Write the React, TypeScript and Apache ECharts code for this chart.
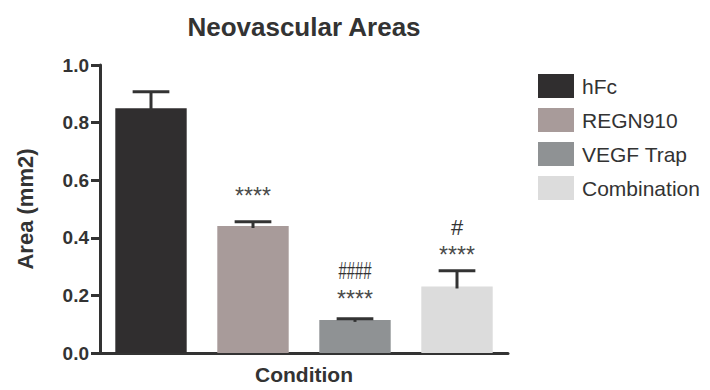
import React, { useEffect, useRef } from "react";
import * as echarts from "echarts";

const categories = ["hFc", "REGN910", "VEGF Trap", "Combination"];
const means = [0.85, 0.441, 0.115, 0.231];
const errors = [0.057, 0.015, 0.004, 0.055];
const barColors = ["#302e2f", "#a89b9a", "#8f9294", "#dcdcdc"];
const starLabels = ["", "****", "****", "****"];
const starY = [0, 0.586, 0.228, 0.38];
const hashLabels = ["", "", "####", "#"];
const hashY = [0, 0, 0.245, 0.397];

const FONT = "Liberation Sans, Arial, Helvetica, sans-serif";
const AXIS = "#333333";

export default function App() {
  const ref = useRef<HTMLDivElement>(null);
  useEffect(() => {
    if (!ref.current) return;
    const chart = echarts.init(ref.current, undefined, { renderer: "svg" });

    const barSeries = categories.map((name, i) => ({
      name,
      type: "bar",
      stack: "total",
      barWidth: "70%",
      itemStyle: { color: barColors[i] },
      data: categories.map((_, j) => (j === i ? means[i] : "-")),
      z: 2,
    }));

    const errData = categories.map((_, i) => [
      i,
      means[i],
      means[i] + errors[i],
      starY[i],
      hashY[i],
    ]);

    const option: any = {
      animation: false,
      title: {
        text: "Neovascular Areas",
        left: 299,
        top: 9,
        textAlign: "center",
        textStyle: { fontFamily: FONT, fontSize: 26, fontWeight: "bold", color: AXIS },
      },
      legend: {
        data: categories,
        orient: "vertical",
        left: 533,
        top: 69,
        itemWidth: 36,
        itemHeight: 24,
        itemGap: 10,
        icon: "rect",
        textStyle: { fontFamily: FONT, fontSize: 21, color: AXIS, padding: [0, 0, 0, 3] },
      },
      grid: { left: 100, right: 202, top: 65, bottom: 35, containLabel: false },
      xAxis: {
        type: "category",
        data: categories,
        name: "Condition",
        nameLocation: "middle",
        nameGap: 11,
        nameTextStyle: { fontFamily: FONT, fontSize: 21, fontWeight: "bold", color: AXIS, verticalAlign: "top" },
        axisLine: { lineStyle: { color: AXIS, width: 3 } },
        axisTick: { show: false },
        axisLabel: { show: false },
      },
      yAxis: {
        type: "value",
        min: 0,
        max: 1,
        interval: 0.2,
        name: "Area (mm2)",
        nameLocation: "middle",
        nameGap: 64,
        nameTextStyle: { fontFamily: FONT, fontSize: 22, fontWeight: "bold", color: AXIS },
        axisLine: { show: true, lineStyle: { color: AXIS, width: 3 } },
        axisTick: { show: true, length: 9, lineStyle: { color: AXIS, width: 3 } },
        axisLabel: {
          formatter: (v: number) => v.toFixed(1),
          fontFamily: FONT,
          fontSize: 19,
          fontWeight: "bold",
          color: AXIS,
          margin: 11,
        },
        splitLine: { show: false },
      },
      series: [
        ...barSeries,
        {
          type: "custom",
          name: "err",
          data: errData,
          encode: { x: 0, y: 2 },
          z: 5,
          clip: false,
          renderItem: (params: any, api: any) => {
            const i = api.value(0);
            const m = api.value(1);
            const u = api.value(2);
            const sy = api.value(3);
            const hy = api.value(4);
            const p0 = api.coord([i, m]);
            const p1 = api.coord([i, u]);
            const half = api.size([1, 0])[0] * 0.18;
            const children: any[] = [
              {
                type: "line",
                shape: { x1: p0[0], y1: p0[1] + 2, x2: p1[0], y2: p1[1] },
                style: { stroke: AXIS, lineWidth: 3 },
              },
              {
                type: "line",
                shape: { x1: p1[0] - half, y1: p1[1], x2: p1[0] + half, y2: p1[1] },
                style: { stroke: AXIS, lineWidth: 3 },
              },
            ];
            if (starLabels[i]) {
              const ps = api.coord([i, sy]);
              children.push({
                type: "text",
                x: ps[0],
                y: ps[1],
                style: {
                  text: starLabels[i],
                  align: "center",
                  verticalAlign: "top",
                  fill: "#4a4a4a",
                  fontSize: 23,
                  fontFamily: FONT,
                },
              });
            }
            if (hashLabels[i]) {
              const ph = api.coord([i, hy]);
              const narrow = hashLabels[i].length > 1;
              children.push({
                type: "text",
                x: ph[0],
                y: ph[1],
                scaleX: narrow ? 0.62 : 1,
                style: {
                  text: hashLabels[i],
                  align: "center",
                  verticalAlign: "bottom",
                  fill: AXIS,
                  fontSize: narrow ? 24 : 22,
                  fontFamily: FONT,
                },
              });
            }
            return { type: "group", children };
          },
        },
      ],
    };

    chart.setOption(option);
    return () => chart.dispose();
  }, []);

  return <div ref={ref} style={{ width: 710, height: 390, position: "absolute", left: 0, top: 0 }} />;
}
